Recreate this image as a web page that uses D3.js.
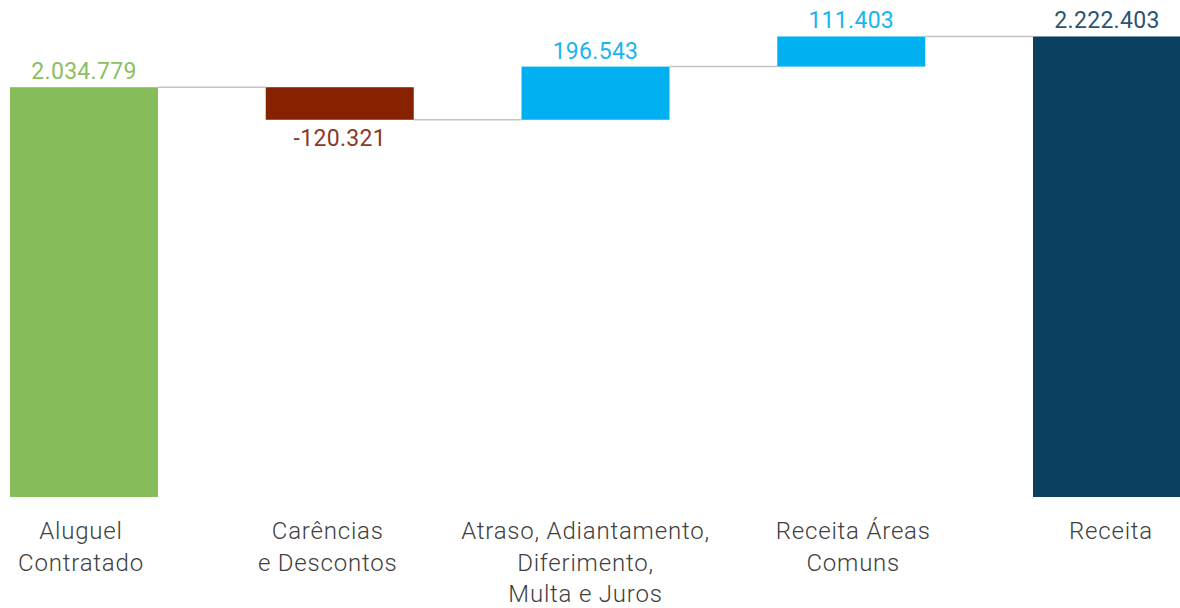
<!DOCTYPE html>
<html><head><meta charset="utf-8">
<script src="https://cdn.jsdelivr.net/npm/d3@7"></script>
<style>html,body{margin:0;padding:0;background:#fff;}svg{display:block;}</style>
</head><body>
<svg id="chart" width="1180" height="608"></svg>
<script>
const categories = ["Aluguel|Contratado", "Carências|e Descontos", "Atraso, Adiantamento,|Diferimento,|Multa e Juros", "Receita Áreas|Comuns", "Receita"];
const values = [2034779, -120321, 196543, 111403, 2222403];
const kinds = ["total", "delta", "delta", "delta", "total"];
const valueLabels = ["2.034.779", "-120.321", "196.543", "111.403", "2.222.403"];
const barColors = ["#86bc5a", "#862200", "#00b0f0", "#00b0f0", "#0c4060"];
const labelColors = ["#8cc062", "#8b3a26", "#19b5ee", "#19b5ee", "#2c5470"];
const labelDx = [-3, -12, -10, 2, 4];

const svg = d3.select("#chart");
const x = d3.scaleBand().domain(d3.range(values.length)).range([-43.9, 1234.9]).paddingInner(0.4213).paddingOuter(0.2107);
const y = d3.scaleLinear().domain([520000, 2250000]).range([497, 29]);

let running = 0;
const segs = values.map((v, i) => {
  let start, end;
  if (kinds[i] === "total") { start = y.domain()[0]; end = v; running = v; }
  else { start = running; end = running + v; running = end; }
  return {i, v, start, end, level: running};
});

const conn = segs.slice(0, -1).map((s, i) => ({x1: x(i) + x.bandwidth(), x2: x(i + 1), yv: s.level}));
svg.append("g").selectAll("line").data(conn).join("line")
  .attr("x1", d => d.x1).attr("x2", d => d.x2)
  .attr("y1", d => y(d.yv)).attr("y2", d => y(d.yv))
  .attr("stroke", "#c4c4c4").attr("stroke-width", 1.5);

svg.append("g").selectAll("rect").data(segs).join("rect")
  .attr("x", d => x(d.i)).attr("width", x.bandwidth())
  .attr("y", d => y(Math.max(d.start, d.end)))
  .attr("height", d => Math.abs(y(d.start) - y(d.end)))
  .attr("fill", d => barColors[d.i]);

svg.append("g").selectAll("text").data(segs).join("text")
  .attr("x", d => x(d.i) + x.bandwidth() / 2)
  .attr("y", d => d.v < 0 ? y(Math.min(d.start, d.end)) + 26 : y(Math.max(d.start, d.end)) - 8)
  .attr("text-anchor", "middle")
  .attr("font-family", "Roboto, sans-serif").attr("font-size", 23)
  .attr("letter-spacing", 0.3)
  .attr("fill", d => labelColors[d.i])
  .text(d => valueLabels[d.i]);

const cat = svg.append("g").selectAll("text").data(categories).join("text")
  .attr("x", (d, i) => x(i) + x.bandwidth() / 2 + labelDx[i])
  .attr("y", 539)
  .attr("text-anchor", "middle")
  .attr("font-family", "Roboto, sans-serif").attr("font-size", 24).attr("font-weight", 300)
  .attr("letter-spacing", 0.8)
  .attr("fill", "#404040");
cat.selectAll("tspan").data(d => d.split("|")).join("tspan")
  .attr("x", function() { return d3.select(this.parentNode).attr("x"); })
  .attr("dy", (d, j) => j === 0 ? 0 : 31.5)
  .text(d => d);
</script>
</body></html>
